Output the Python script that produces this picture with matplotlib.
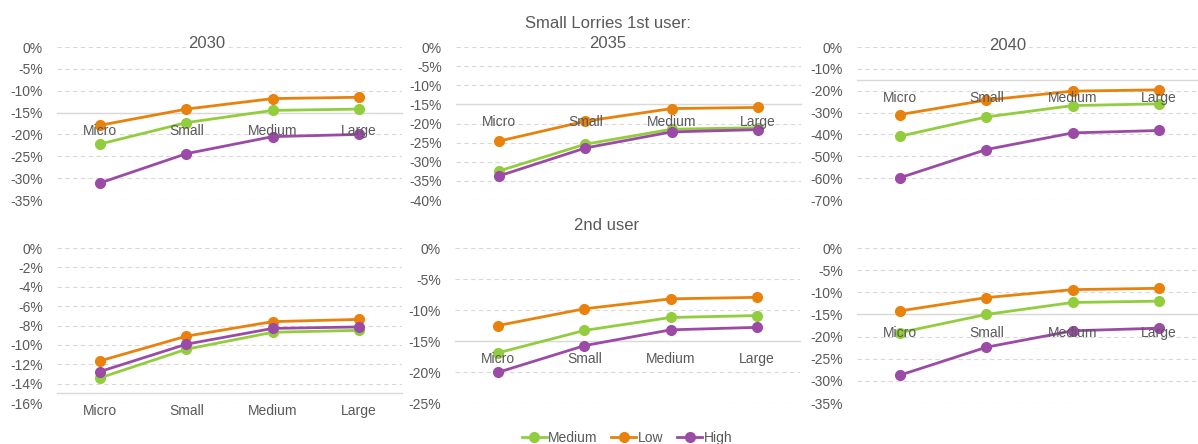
import numpy as np
import matplotlib.pyplot as plt
from matplotlib.ticker import FuncFormatter

plt.rcParams['font.family'] = ['Liberation Sans', 'DejaVu Sans']

# Data (percent change)
sizes = ['Micro', 'Small', 'Medium', 'Large']
series = ['Medium', 'Low', 'High']
colors = {'Medium': '#92CD3E', 'Low': '#E8820C', 'High': '#9B4BA6'}

first_2030 = {'Medium': [-22.2, -17.3, -14.5, -14.2],
              'Low': [-17.9, -14.2, -11.8, -11.5],
              'High': [-31.1, -24.4, -20.5, -20.0]}
first_2035 = {'Medium': [-32.4, -25.4, -21.5, -21.1],
              'Low': [-24.6, -19.4, -16.1, -15.8],
              'High': [-33.7, -26.4, -22.2, -21.6]}
first_2040 = {'Medium': [-40.8, -32.0, -26.8, -26.0],
              'Low': [-30.9, -24.3, -20.2, -19.6],
              'High': [-59.8, -46.9, -39.3, -38.2]}
second_2030 = {'Medium': [-13.4, -10.45, -8.7, -8.5],
               'Low': [-11.65, -9.1, -7.6, -7.37],
               'High': [-12.75, -9.93, -8.3, -8.15]}
second_2035 = {'Medium': [-16.9, -13.3, -11.2, -10.9],
               'Low': [-12.5, -9.8, -8.2, -7.96],
               'High': [-20.05, -15.75, -13.2, -12.8]}
second_2040 = {'Medium': [-19.1, -15.0, -12.3, -12.0],
               'Low': [-14.2, -11.2, -9.4, -9.1],
               'High': [-28.7, -22.4, -18.7, -18.1]}

W, H = 1198, 444
grey = '#595959'
fig = plt.figure(figsize=(W / 100, H / 100), dpi=100)


def panel(left, top, width, height, data, ymin, step):
    ax = fig.add_axes([left / W, 1 - (top + height) / H, width / W, height / H])
    x = np.arange(len(sizes))
    for s in series:
        ax.plot(x, data[s], color=colors[s], lw=2, marker='o', ms=7,
                label=s, clip_on=False, zorder=3)
    ax.set_xlim(-0.5, len(sizes) - 0.5)
    ax.set_ylim(ymin, 0)
    ticks = np.arange(0, ymin - step / 2, -step)
    ax.set_yticks(ticks)
    ax.yaxis.set_major_formatter(FuncFormatter(lambda v, p: f'{abs(v):.0f}%' if abs(v) < 1e-9 else f'{v:.0f}%'))
    for t in ticks:
        ax.axhline(t, color='#D9D9D9', lw=0.8, ls=(0, (4, 3)), zorder=1)
    ax.set_xticks(x)
    ax.set_xticklabels(sizes)
    ax.xaxis.set_zorder(4)  # category labels sit on top of the lines
    for sp in ['left', 'right', 'top']:
        ax.spines[sp].set_visible(False)
    # category axis crosses the value axis at -15%
    ax.spines['bottom'].set_position(('data', -15))
    ax.spines['bottom'].set_color('#D9D9D9')
    ax.spines['bottom'].set_linewidth(1)
    ax.spines['bottom'].set_zorder(2)
    ax.tick_params(axis='y', length=0, pad=10, labelsize=10, labelcolor=grey)
    ax.tick_params(axis='x', length=0, pad=8, labelsize=10, labelcolor=grey)
    return ax


panel(57, 47, 345, 153, first_2030, -35, 5)
panel(456, 47, 345, 153, first_2035, -40, 5)
panel(857, 47, 345, 153, first_2040, -70, 10)
panel(57, 248, 345, 155, second_2030, -16, 2)
ax5 = panel(455, 248, 345, 155, second_2035, -25, 5)
panel(857, 248, 345, 155, second_2040, -35, 5)

box = dict(facecolor='white', edgecolor='none', pad=1)
fig.text(207 / W, 1 - 43 / H, '2030', ha='center', va='center', fontsize=12, color=grey, bbox=box)
fig.text(608 / W, 1 - 24 / H, 'Small Lorries 1st user:', ha='center', va='center', fontsize=12, color=grey)
fig.text(608 / W, 1 - 43 / H, '2035', ha='center', va='center', fontsize=12, color=grey, bbox=box)
fig.text(1008 / W, 1 - 45 / H, '2040', ha='center', va='center', fontsize=12, color=grey, bbox=box)
fig.text(607 / W, 1 - 225 / H, '2nd user', ha='center', va='center', fontsize=12, color=grey)

handles, labels = ax5.get_legend_handles_labels()
fig.legend(handles, labels, loc='center', bbox_to_anchor=(627 / W, 1 - 438 / H), ncol=3,
           frameon=False, fontsize=10, labelcolor=grey, handlelength=1.8,
           handletextpad=0.1, columnspacing=1.0, borderaxespad=0)

fig.savefig('out.png', dpi=100)
